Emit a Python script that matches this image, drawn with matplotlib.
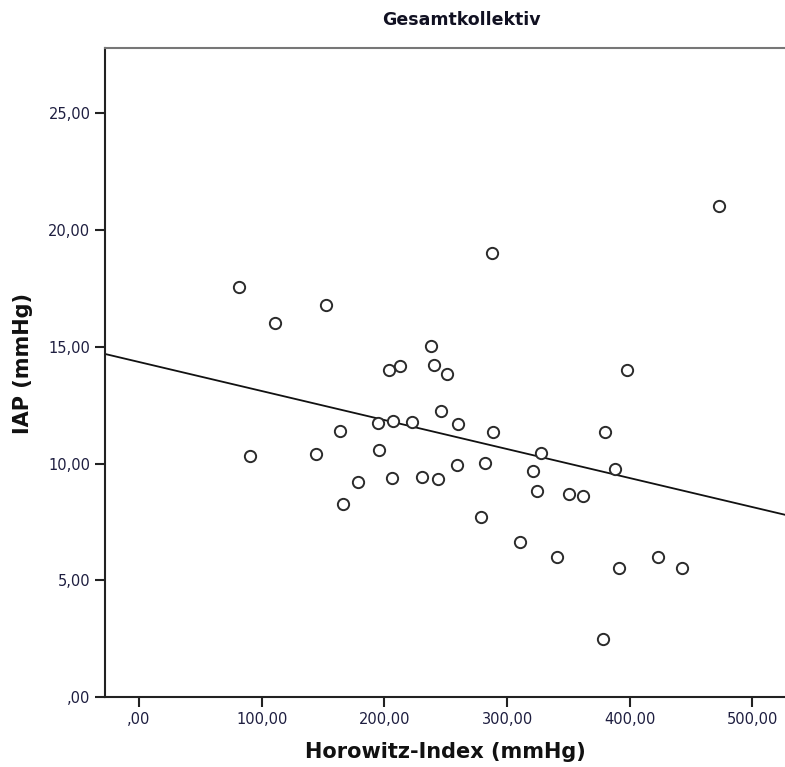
import numpy as np
import matplotlib.pyplot as plt
from matplotlib.ticker import FuncFormatter

# Horowitz-Index vs. intraabdominal pressure, all patients
horowitz = [81.8, 90.5, 110.8, 144.0, 152.4, 164.1, 166.5, 178.5, 195.0, 195.3,
            204.0, 206.0, 207.3, 212.7, 222.8, 230.4, 237.7, 240.4, 244.0, 246.1,
            250.8, 259.2, 260.0, 279.0, 282.3, 287.4, 288.8, 310.2, 321.4, 324.4,
            327.9, 340.4, 350.4, 362.1, 378.4, 379.5, 387.7, 390.9, 397.4, 423.2,
            442.3, 473.0]
iap = [17.56, 10.33, 16.02, 10.43, 16.80, 11.41, 8.27, 9.19, 11.73, 10.57,
       14.00, 9.36, 11.84, 14.16, 11.80, 9.44, 15.02, 14.22, 9.34, 12.27,
       13.84, 9.92, 11.69, 7.69, 10.01, 19.02, 11.35, 6.64, 9.67, 8.83,
       10.46, 6.00, 8.69, 8.60, 2.50, 11.35, 9.76, 5.52, 14.02, 6.00,
       5.52, 21.02]

# linear fit line
fit_intercept = 14.35
fit_slope = -0.01243

x_ticks = [0, 100, 200, 300, 400, 500]
y_ticks = [0, 5, 10, 15, 20, 25]
x_lim = (-27.7, 526.5)
y_lim = (0, 27.8)


def comma_fmt(v, pos):
    s = f"{v:.2f}".replace(".", ",")
    if s.startswith("0,"):
        s = s[1:]
    return s


fig = plt.figure(figsize=(7.85, 7.67), dpi=100)
ax = fig.add_axes([105 / 785, 70 / 767, 680 / 785, 649 / 767])

ax.scatter(horowitz, iap, s=66, facecolors="white", edgecolors="#2a2a2a",
           linewidths=1.4, zorder=3)

xs = np.array(x_lim)
ax.plot(xs, fit_intercept + fit_slope * xs, color="#111111", linewidth=1.3, zorder=2)

ax.set_xlim(*x_lim)
ax.set_ylim(*y_lim)
ax.set_xticks(x_ticks)
ax.set_yticks(y_ticks)
ax.xaxis.set_major_formatter(FuncFormatter(comma_fmt))
ax.yaxis.set_major_formatter(FuncFormatter(comma_fmt))
ax.tick_params(direction="out", length=7, width=1.5, labelsize=10.5,
               labelcolor="#1e1e40", color="#222222")

ax.spines["right"].set_visible(False)
ax.spines["left"].set_linewidth(1.5)
ax.spines["bottom"].set_linewidth(1.5)
ax.spines["left"].set_color("#222222")
ax.spines["bottom"].set_color("#222222")
ax.spines["top"].set_color("#777777")
ax.spines["top"].set_linewidth(1.5)

fig.text(461 / 785, 1 - 20 / 767, "Gesamtkollektiv", ha="center", va="center",
         fontsize=12.5, fontweight="bold", color="#111122")
fig.text(445 / 785, 1 - 752 / 767, "Horowitz-Index (mmHg)", ha="center", va="center",
         fontsize=15, fontweight="bold", color="#111111")
fig.text(23 / 785, 1 - 363 / 767, "IAP (mmHg)", ha="center", va="center",
         rotation=90, fontsize=15, fontweight="bold", color="#111111")

fig.savefig("out.png", dpi=100)
